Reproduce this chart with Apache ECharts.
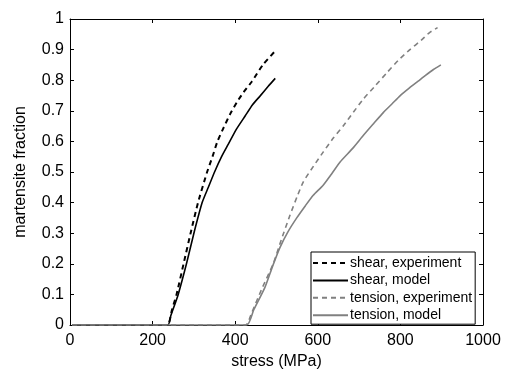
<!DOCTYPE html>
<html><head><meta charset="utf-8">
<script src="https://cdn.jsdelivr.net/npm/echarts@6/dist/echarts.min.js"></script>
<style>html,body{margin:0;padding:0;background:#fff}#c{width:513px;height:375px}</style>
</head><body><div id="c"></div>
<script>
const xTicks = [0, 200, 400, 600, 800, 1000];
const yTicks = [0, 0.1, 0.2, 0.3, 0.4, 0.5, 0.6, 0.7, 0.8, 0.9, 1];
const seriesNames = ['shear, experiment', 'shear, model', 'tension, experiment', 'tension, model'];

const shearExpX = [5, 100, 200, 236, 247, 258, 275, 292, 310, 332, 345, 357, 372, 388, 405, 420, 440, 467, 500];
const shearExpY = [0, 0, 0, 0, 0.05, 0.1, 0.2, 0.3, 0.4, 0.5, 0.55, 0.6, 0.645, 0.69, 0.73, 0.76, 0.795, 0.85, 0.9];

const shearModX = [5, 100, 200, 237, 244, 262, 282, 300, 320, 335, 350, 367, 383, 403, 424, 442, 460, 480, 497];
const shearModY = [0, 0, 0, 0, 0.03, 0.1, 0.2, 0.3, 0.4, 0.45, 0.5, 0.55, 0.59, 0.64, 0.683, 0.72, 0.748, 0.78, 0.806];

const tensExpX = [5, 100, 200, 300, 425, 440, 465, 492, 512, 533, 550, 565, 590, 613, 637, 662, 686, 710, 738, 767, 795, 823, 850, 870, 890];
const tensExpY = [0, 0, 0, 0, 0, 0.04, 0.12, 0.2, 0.28, 0.36, 0.42, 0.468, 0.52, 0.565, 0.61, 0.651, 0.695, 0.738, 0.78, 0.824, 0.865, 0.9, 0.93, 0.955, 0.972];

const tensModX = [5, 100, 200, 300, 428, 445, 472, 490, 508, 528, 549, 570, 589, 613, 635, 654, 685, 710, 735, 759, 780, 799, 822, 843, 860, 880, 898];
const tensModY = [0, 0, 0, 0, 0, 0.05, 0.123, 0.19, 0.252, 0.305, 0.35, 0.39, 0.424, 0.457, 0.497, 0.533, 0.578, 0.619, 0.658, 0.695, 0.723, 0.749, 0.775, 0.797, 0.815, 0.835, 0.85];

function pairs(xs, ys) { return xs.map((x, i) => [x, ys[i]]); }

const chart = echarts.init(document.getElementById('c'));
const font = 'Liberation Sans, Arial, sans-serif';
function axisCommon() {
  return {
    axisLine: { show: true, onZero: false, lineStyle: { color: '#000', width: 1 } },
    axisTick: { show: true, inside: true, length: 4, lineStyle: { color: '#000' } },
    splitLine: { show: false }
  };
}
chart.setOption({
  animation: false,
  backgroundColor: '#fff',
  grid: { left: 70, right: 30, top: 19, bottom: 47 },
  xAxis: [
    Object.assign({ type: 'value', min: 0, max: 1000, interval: 200, position: 'bottom',
      name: 'stress (MPa)', nameLocation: 'middle', nameGap: 29,
      nameTextStyle: { fontFamily: font, fontSize: 16, color: '#000', verticalAlign: 'top' },
      axisLabel: { fontFamily: font, fontSize: 16, color: '#000', margin: 8, formatter: v => String(v) } }, axisCommon()),
    Object.assign({ type: 'value', min: 0, max: 1000, interval: 200, position: 'top',
      axisLabel: { show: false } }, axisCommon())
  ],
  yAxis: [
    Object.assign({ type: 'value', min: 0, max: 1, interval: 0.1, position: 'left',
      name: 'martensite fraction', nameLocation: 'middle', nameGap: 41, nameRotate: 90,
      nameTextStyle: { fontFamily: font, fontSize: 16, color: '#000' },
      axisLabel: { fontFamily: font, fontSize: 16, color: '#000', margin: 6,
        formatter: v => String(Math.round(v * 10) / 10) } }, axisCommon()),
    Object.assign({ type: 'value', min: 0, max: 1, interval: 0.1, position: 'right',
      axisLabel: { show: false } }, axisCommon())
  ],
  legend: {
    left: 311, top: 252, orient: 'vertical',
    itemWidth: 35, itemHeight: 14, itemGap: 3.4,
    padding: [4, 3, 2, 1],
    borderColor: '#000', borderWidth: 1, backgroundColor: '#fff',
    itemStyle: { color: 'transparent', borderWidth: 0, opacity: 0 },
    textStyle: { fontFamily: font, fontSize: 14, lineHeight: 14, color: '#000', padding: [0, 0, 0, -3] },
    data: seriesNames
  },
  series: [
    { name: seriesNames[0], type: 'line', showSymbol: false, symbol: 'none', z: 4, smooth: 0.2,
      data: pairs(shearExpX, shearExpY), lineStyle: { color: '#000', width: 2, type: [5, 4] }, itemStyle: { color: '#000' } },
    { name: seriesNames[1], type: 'line', showSymbol: false, symbol: 'none', z: 4, smooth: 0.2,
      data: pairs(shearModX, shearModY), lineStyle: { color: '#000', width: 1.6 }, itemStyle: { color: '#000' } },
    { name: seriesNames[2], type: 'line', showSymbol: false, symbol: 'none', z: 5, smooth: 0.2,
      data: pairs(tensExpX, tensExpY), lineStyle: { color: '#808080', width: 1.6, type: [5, 4] }, itemStyle: { color: '#808080' } },
    { name: seriesNames[3], type: 'line', showSymbol: false, symbol: 'none', z: 5, smooth: 0.2,
      data: pairs(tensModX, tensModY), lineStyle: { color: '#808080', width: 1.6 }, itemStyle: { color: '#808080' } }
  ]
});
</script>
</body></html>
